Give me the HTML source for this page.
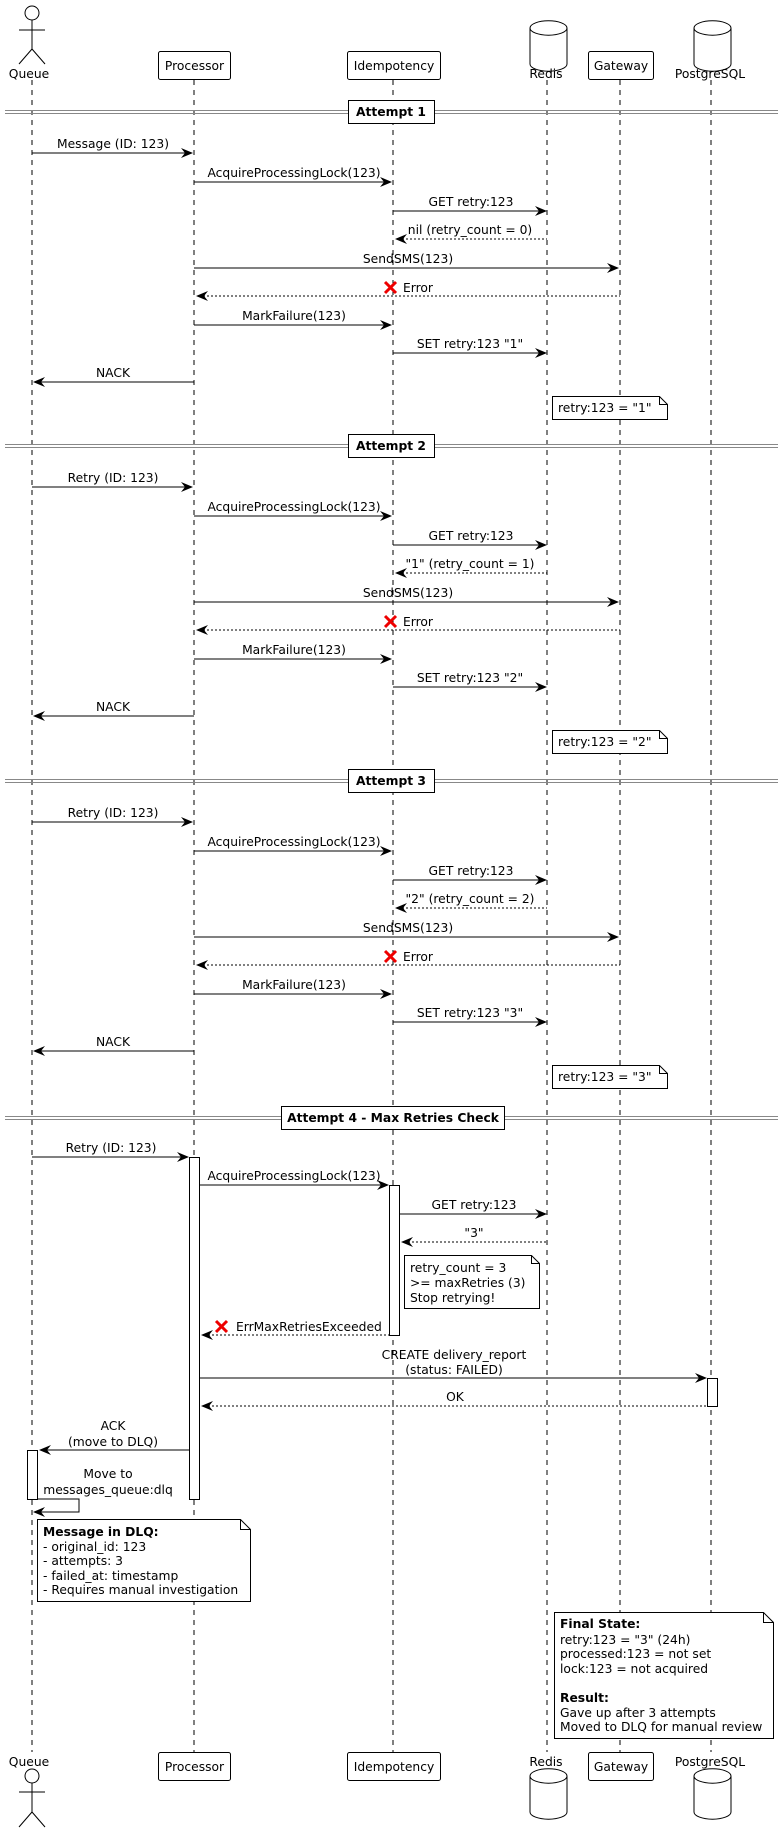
<!DOCTYPE html>
<html><head><meta charset="utf-8"><style>
html,body{margin:0;padding:0;background:#fff}
svg{display:block}
text{font-family:"DejaVu Sans","Liberation Sans",sans-serif;font-size:12.3px;fill:#000}
.b{font-weight:bold}
.ll{stroke:#000;stroke-width:1;stroke-dasharray:5,5}
.m{stroke:#000;stroke-width:1}
.d{stroke:#000;stroke-width:1;stroke-dasharray:2,2}
.box{fill:#fff;stroke:#000;stroke-width:1}
.sep{stroke:#888;stroke-width:1}
.x{stroke:#e00;stroke-width:3}
</style></head><body>
<svg width="782" height="1832" viewBox="0 0 782 1832" xmlns="http://www.w3.org/2000/svg">
<defs>
<marker id="r" markerWidth="14" markerHeight="12" refX="12" refY="5" orient="auto" markerUnits="userSpaceOnUse"><polygon points="12,5 0,0 4,5 0,10"/></marker>
</defs>
<!-- lifelines -->
<line class="ll" x1="32" y1="80" x2="32" y2="1752"/>
<line class="ll" x1="194" y1="80" x2="194" y2="1752"/>
<line class="ll" x1="393" y1="80" x2="393" y2="1752"/>
<line class="ll" x1="547" y1="80" x2="547" y2="1752"/>
<line class="ll" x1="620" y1="80" x2="620" y2="1752"/>
<line class="ll" x1="711" y1="80" x2="711" y2="1752"/>

<!-- top participants -->
<g fill="none" stroke="#000">
<circle cx="32" cy="13" r="7" fill="#fff"/>
<line x1="32" y1="20" x2="32" y2="49"/><line x1="19" y1="30" x2="45" y2="30"/>
<line x1="32" y1="49" x2="19" y2="64"/><line x1="32" y1="49" x2="45" y2="64"/>
</g>
<text x="29" y="78" text-anchor="middle">Queue</text>
<rect class="box" x="158.5" y="51.5" width="72" height="28" rx="2"/><text x="194.5" y="70" text-anchor="middle">Processor</text>
<rect class="box" x="347.5" y="51.5" width="93" height="28" rx="2"/><text x="394" y="70" text-anchor="middle">Idempotency</text>
<rect class="box" x="588.5" y="51.5" width="65" height="28" rx="2"/><text x="621" y="70" text-anchor="middle">Gateway</text>
<g fill="#fff" stroke="#000">
<path d="M530,28 a18,7 0 0 1 37,0 v36 a18,7 0 0 1 -37,0 z"/><path d="M530,28 a18,7 0 0 0 37,0" fill="none"/>
<path d="M694,28 a18,7 0 0 1 37,0 v36 a18,7 0 0 1 -37,0 z"/><path d="M694,28 a18,7 0 0 0 37,0" fill="none"/>
</g>
<text x="546" y="78" text-anchor="middle">Redis</text>
<text x="710" y="78" text-anchor="middle">PostgreSQL</text>

<!-- ATTEMPT 1 -->
<line class="sep" x1="5" y1="110.5" x2="778" y2="110.5"/><line class="sep" x1="5" y1="113.5" x2="778" y2="113.5"/>
<rect class="box" x="348.5" y="100.5" width="86" height="23"/><text class="b" x="391" y="116" text-anchor="middle">Attempt 1</text>

<line class="m" x1="32" y1="153" x2="190" y2="153"/><polygon points="193,153 181,148 185,153 181,158"/><text x="113" y="148" text-anchor="middle">Message (ID: 123)</text>
<line class="m" x1="194" y1="182" x2="389" y2="182"/><polygon points="392,182 380,177 384,182 380,187"/><text x="294" y="177" text-anchor="middle">AcquireProcessingLock(123)</text>
<line class="m" x1="393" y1="211" x2="544" y2="211"/><polygon points="547,211 535,206 539,211 535,216"/><text x="471" y="206" text-anchor="middle">GET retry:123</text>
<line class="d" x1="398" y1="239" x2="547" y2="239"/><polygon points="395,239 407,234 403,239 407,244"/><text x="470" y="234" text-anchor="middle">nil (retry_count = 0)</text>
<line class="m" x1="194" y1="268" x2="616" y2="268"/><polygon points="619,268 607,263 611,268 607,273"/><text x="408" y="263" text-anchor="middle">SendSMS(123)</text>
<line class="d" x1="199" y1="296" x2="620" y2="296"/><polygon points="196,296 208,291 204,296 208,301"/><line class="x" x1="385" y1="282" x2="396" y2="293"/><line class="x" x1="396" y1="282" x2="385" y2="293"/><text x="403" y="292">Error</text>
<line class="m" x1="194" y1="325" x2="389" y2="325"/><polygon points="392,325 380,320 384,325 380,330"/><text x="294" y="320" text-anchor="middle">MarkFailure(123)</text>
<line class="m" x1="393" y1="353" x2="544" y2="353"/><polygon points="547,353 535,348 539,353 535,358"/><text x="470" y="348" text-anchor="middle">SET retry:123 "1"</text>
<line class="m" x1="36" y1="382" x2="194" y2="382"/><polygon points="33,382 45,377 41,382 45,387"/><text x="113" y="377" text-anchor="middle">NACK</text>
<path class="box" d="M552.5,396.5 h107 l8,8 v15 h-115 z"/><path d="M659.5,396.5 v8 h8" fill="none" stroke="#000"/><text x="558" y="412">retry:123 = "1"</text>

<!-- ATTEMPT 2 -->
<line class="sep" x1="5" y1="444.5" x2="778" y2="444.5"/><line class="sep" x1="5" y1="447.5" x2="778" y2="447.5"/>
<rect class="box" x="348.5" y="434.5" width="86" height="23"/><text class="b" x="391" y="450" text-anchor="middle">Attempt 2</text>

<line class="m" x1="32" y1="487" x2="190" y2="487"/><polygon points="193,487 181,482 185,487 181,492"/><text x="113" y="482" text-anchor="middle">Retry (ID: 123)</text>
<line class="m" x1="194" y1="516" x2="389" y2="516"/><polygon points="392,516 380,511 384,516 380,521"/><text x="294" y="511" text-anchor="middle">AcquireProcessingLock(123)</text>
<line class="m" x1="393" y1="545" x2="544" y2="545"/><polygon points="547,545 535,540 539,545 535,550"/><text x="471" y="540" text-anchor="middle">GET retry:123</text>
<line class="d" x1="398" y1="573" x2="547" y2="573"/><polygon points="395,573 407,568 403,573 407,578"/><text x="470" y="568" text-anchor="middle">"1" (retry_count = 1)</text>
<line class="m" x1="194" y1="602" x2="616" y2="602"/><polygon points="619,602 607,597 611,602 607,607"/><text x="408" y="597" text-anchor="middle">SendSMS(123)</text>
<line class="d" x1="199" y1="630" x2="620" y2="630"/><polygon points="196,630 208,625 204,630 208,635"/><line class="x" x1="385" y1="616" x2="396" y2="627"/><line class="x" x1="396" y1="616" x2="385" y2="627"/><text x="403" y="626">Error</text>
<line class="m" x1="194" y1="659" x2="389" y2="659"/><polygon points="392,659 380,654 384,659 380,664"/><text x="294" y="654" text-anchor="middle">MarkFailure(123)</text>
<line class="m" x1="393" y1="687" x2="544" y2="687"/><polygon points="547,687 535,682 539,687 535,692"/><text x="470" y="682" text-anchor="middle">SET retry:123 "2"</text>
<line class="m" x1="36" y1="716" x2="194" y2="716"/><polygon points="33,716 45,711 41,716 45,721"/><text x="113" y="711" text-anchor="middle">NACK</text>
<path class="box" d="M552.5,730.5 h107 l8,8 v15 h-115 z"/><path d="M659.5,730.5 v8 h8" fill="none" stroke="#000"/><text x="558" y="746">retry:123 = "2"</text>

<!-- ATTEMPT 3 -->
<line class="sep" x1="5" y1="779.5" x2="778" y2="779.5"/><line class="sep" x1="5" y1="782.5" x2="778" y2="782.5"/>
<rect class="box" x="348.5" y="769.5" width="86" height="23"/><text class="b" x="391" y="785" text-anchor="middle">Attempt 3</text>

<line class="m" x1="32" y1="822" x2="190" y2="822"/><polygon points="193,822 181,817 185,822 181,827"/><text x="113" y="817" text-anchor="middle">Retry (ID: 123)</text>
<line class="m" x1="194" y1="851" x2="389" y2="851"/><polygon points="392,851 380,846 384,851 380,856"/><text x="294" y="846" text-anchor="middle">AcquireProcessingLock(123)</text>
<line class="m" x1="393" y1="880" x2="544" y2="880"/><polygon points="547,880 535,875 539,880 535,885"/><text x="471" y="875" text-anchor="middle">GET retry:123</text>
<line class="d" x1="398" y1="908" x2="547" y2="908"/><polygon points="395,908 407,903 403,908 407,913"/><text x="470" y="903" text-anchor="middle">"2" (retry_count = 2)</text>
<line class="m" x1="194" y1="937" x2="616" y2="937"/><polygon points="619,937 607,932 611,937 607,942"/><text x="408" y="932" text-anchor="middle">SendSMS(123)</text>
<line class="d" x1="199" y1="965" x2="620" y2="965"/><polygon points="196,965 208,960 204,965 208,970"/><line class="x" x1="385" y1="951" x2="396" y2="962"/><line class="x" x1="396" y1="951" x2="385" y2="962"/><text x="403" y="961">Error</text>
<line class="m" x1="194" y1="994" x2="389" y2="994"/><polygon points="392,994 380,989 384,994 380,999"/><text x="294" y="989" text-anchor="middle">MarkFailure(123)</text>
<line class="m" x1="393" y1="1022" x2="544" y2="1022"/><polygon points="547,1022 535,1017 539,1022 535,1027"/><text x="470" y="1017" text-anchor="middle">SET retry:123 "3"</text>
<line class="m" x1="36" y1="1051" x2="194" y2="1051"/><polygon points="33,1051 45,1046 41,1051 45,1056"/><text x="113" y="1046" text-anchor="middle">NACK</text>
<path class="box" d="M552.5,1065.5 h107 l8,8 v15 h-115 z"/><path d="M659.5,1065.5 v8 h8" fill="none" stroke="#000"/><text x="558" y="1081">retry:123 = "3"</text>

<!-- ATTEMPT 4 -->
<line class="sep" x1="5" y1="1116.5" x2="778" y2="1116.5"/><line class="sep" x1="5" y1="1119.5" x2="778" y2="1119.5"/>
<rect class="box" x="281.5" y="1106.5" width="223" height="23"/><text class="b" x="393" y="1122" text-anchor="middle">Attempt 4 - Max Retries Check</text>

<!-- activations -->
<rect class="box" x="189.5" y="1157.5" width="10" height="342"/>
<rect class="box" x="389.5" y="1185.5" width="10" height="150"/>
<rect class="box" x="707.5" y="1378.5" width="10" height="28"/>
<rect class="box" x="27.5" y="1450.5" width="10" height="49"/>

<line class="m" x1="32" y1="1157" x2="186" y2="1157"/><polygon points="189,1157 177,1152 181,1157 177,1162"/><text x="111" y="1152" text-anchor="middle">Retry (ID: 123)</text>
<line class="m" x1="200" y1="1185" x2="386" y2="1185"/><polygon points="389,1185 377,1180 381,1185 377,1190"/><text x="294" y="1180" text-anchor="middle">AcquireProcessingLock(123)</text>
<line class="m" x1="400" y1="1214" x2="544" y2="1214"/><polygon points="547,1214 535,1209 539,1214 535,1219"/><text x="474" y="1209" text-anchor="middle">GET retry:123</text>
<line class="d" x1="404" y1="1242" x2="547" y2="1242"/><polygon points="401,1242 413,1237 409,1242 413,1247"/><text x="474" y="1237" text-anchor="middle">"3"</text>
<path class="box" d="M404.5,1255.5 h127 l8,8 v45 h-135 z"/><path d="M531.5,1255.5 v8 h8" fill="none" stroke="#000"/>
<text x="410" y="1272">retry_count = 3</text><text x="410" y="1287">&gt;= maxRetries (3)</text><text x="410" y="1302">Stop retrying!</text>
<line class="d" x1="204" y1="1335" x2="389" y2="1335"/><polygon points="201,1335 213,1330 209,1335 213,1340"/><line class="x" x1="216" y1="1321" x2="227" y2="1332"/><line class="x" x1="227" y1="1321" x2="216" y2="1332"/><text x="236" y="1331">ErrMaxRetriesExceeded</text>
<line class="m" x1="200" y1="1378" x2="704" y2="1378"/><polygon points="707,1378 695,1373 699,1378 695,1383"/><text x="454" y="1359" text-anchor="middle">CREATE delivery_report</text><text x="454" y="1374" text-anchor="middle">(status: FAILED)</text>
<line class="d" x1="204" y1="1406" x2="707" y2="1406"/><polygon points="201,1406 213,1401 209,1406 213,1411"/><text x="455" y="1401" text-anchor="middle">OK</text>
<line class="m" x1="42" y1="1450" x2="189" y2="1450"/><polygon points="39,1450 51,1445 47,1450 51,1455"/><text x="113" y="1430" text-anchor="middle">ACK</text><text x="113" y="1446" text-anchor="middle">(move to DLQ)</text>
<polyline points="37,1499 79,1499 79,1512 36,1512" fill="none" stroke="#000"/><polygon points="33,1512 45,1507 41,1512 45,1517"/>
<text x="108" y="1478" text-anchor="middle">Move to</text><text x="108" y="1494" text-anchor="middle">messages_queue:dlq</text>
<path class="box" d="M37.5,1519.5 h203 l10,10 v72 h-213 z"/><path d="M240.5,1519.5 v10 h10" fill="none" stroke="#000"/>
<text class="b" x="43" y="1536">Message in DLQ:</text>
<text x="43" y="1551">- original_id: 123</text>
<text x="43" y="1565">- attempts: 3</text>
<text x="43" y="1580">- failed_at: timestamp</text>
<text x="43" y="1594">- Requires manual investigation</text>

<path class="box" d="M554.5,1612.5 h209 l10,10 v116 h-219 z"/><path d="M763.5,1612.5 v10 h10" fill="none" stroke="#000"/>
<text class="b" x="560" y="1628">Final State:</text>
<text x="560" y="1644">retry:123 = "3" (24h)</text>
<text x="560" y="1658">processed:123 = not set</text>
<text x="560" y="1673">lock:123 = not acquired</text>
<text class="b" x="560" y="1702">Result:</text>
<text x="560" y="1717">Gave up after 3 attempts</text>
<text x="560" y="1731">Moved to DLQ for manual review</text>

<!-- bottom participants -->
<text x="29" y="1766" text-anchor="middle">Queue</text>
<g fill="none" stroke="#000">
<circle cx="32" cy="1776" r="7" fill="#fff"/>
<line x1="32" y1="1783" x2="32" y2="1812"/><line x1="19" y1="1792" x2="45" y2="1792"/>
<line x1="32" y1="1812" x2="19" y2="1827"/><line x1="32" y1="1812" x2="45" y2="1827"/>
</g>
<rect class="box" x="158.5" y="1752.5" width="72" height="28" rx="2"/><text x="194.5" y="1771" text-anchor="middle">Processor</text>
<rect class="box" x="347.5" y="1752.5" width="93" height="28" rx="2"/><text x="394" y="1771" text-anchor="middle">Idempotency</text>
<rect class="box" x="588.5" y="1752.5" width="65" height="28" rx="2"/><text x="621" y="1771" text-anchor="middle">Gateway</text>
<text x="546" y="1766" text-anchor="middle">Redis</text>
<text x="710" y="1766" text-anchor="middle">PostgreSQL</text>
<g fill="#fff" stroke="#000">
<path d="M530,1776 a18,7 0 0 1 37,0 v36 a18,7 0 0 1 -37,0 z"/><path d="M530,1776 a18,7 0 0 0 37,0" fill="none"/>
<path d="M694,1776 a18,7 0 0 1 37,0 v36 a18,7 0 0 1 -37,0 z"/><path d="M694,1776 a18,7 0 0 0 37,0" fill="none"/>
</g>
</svg>
</body></html>
